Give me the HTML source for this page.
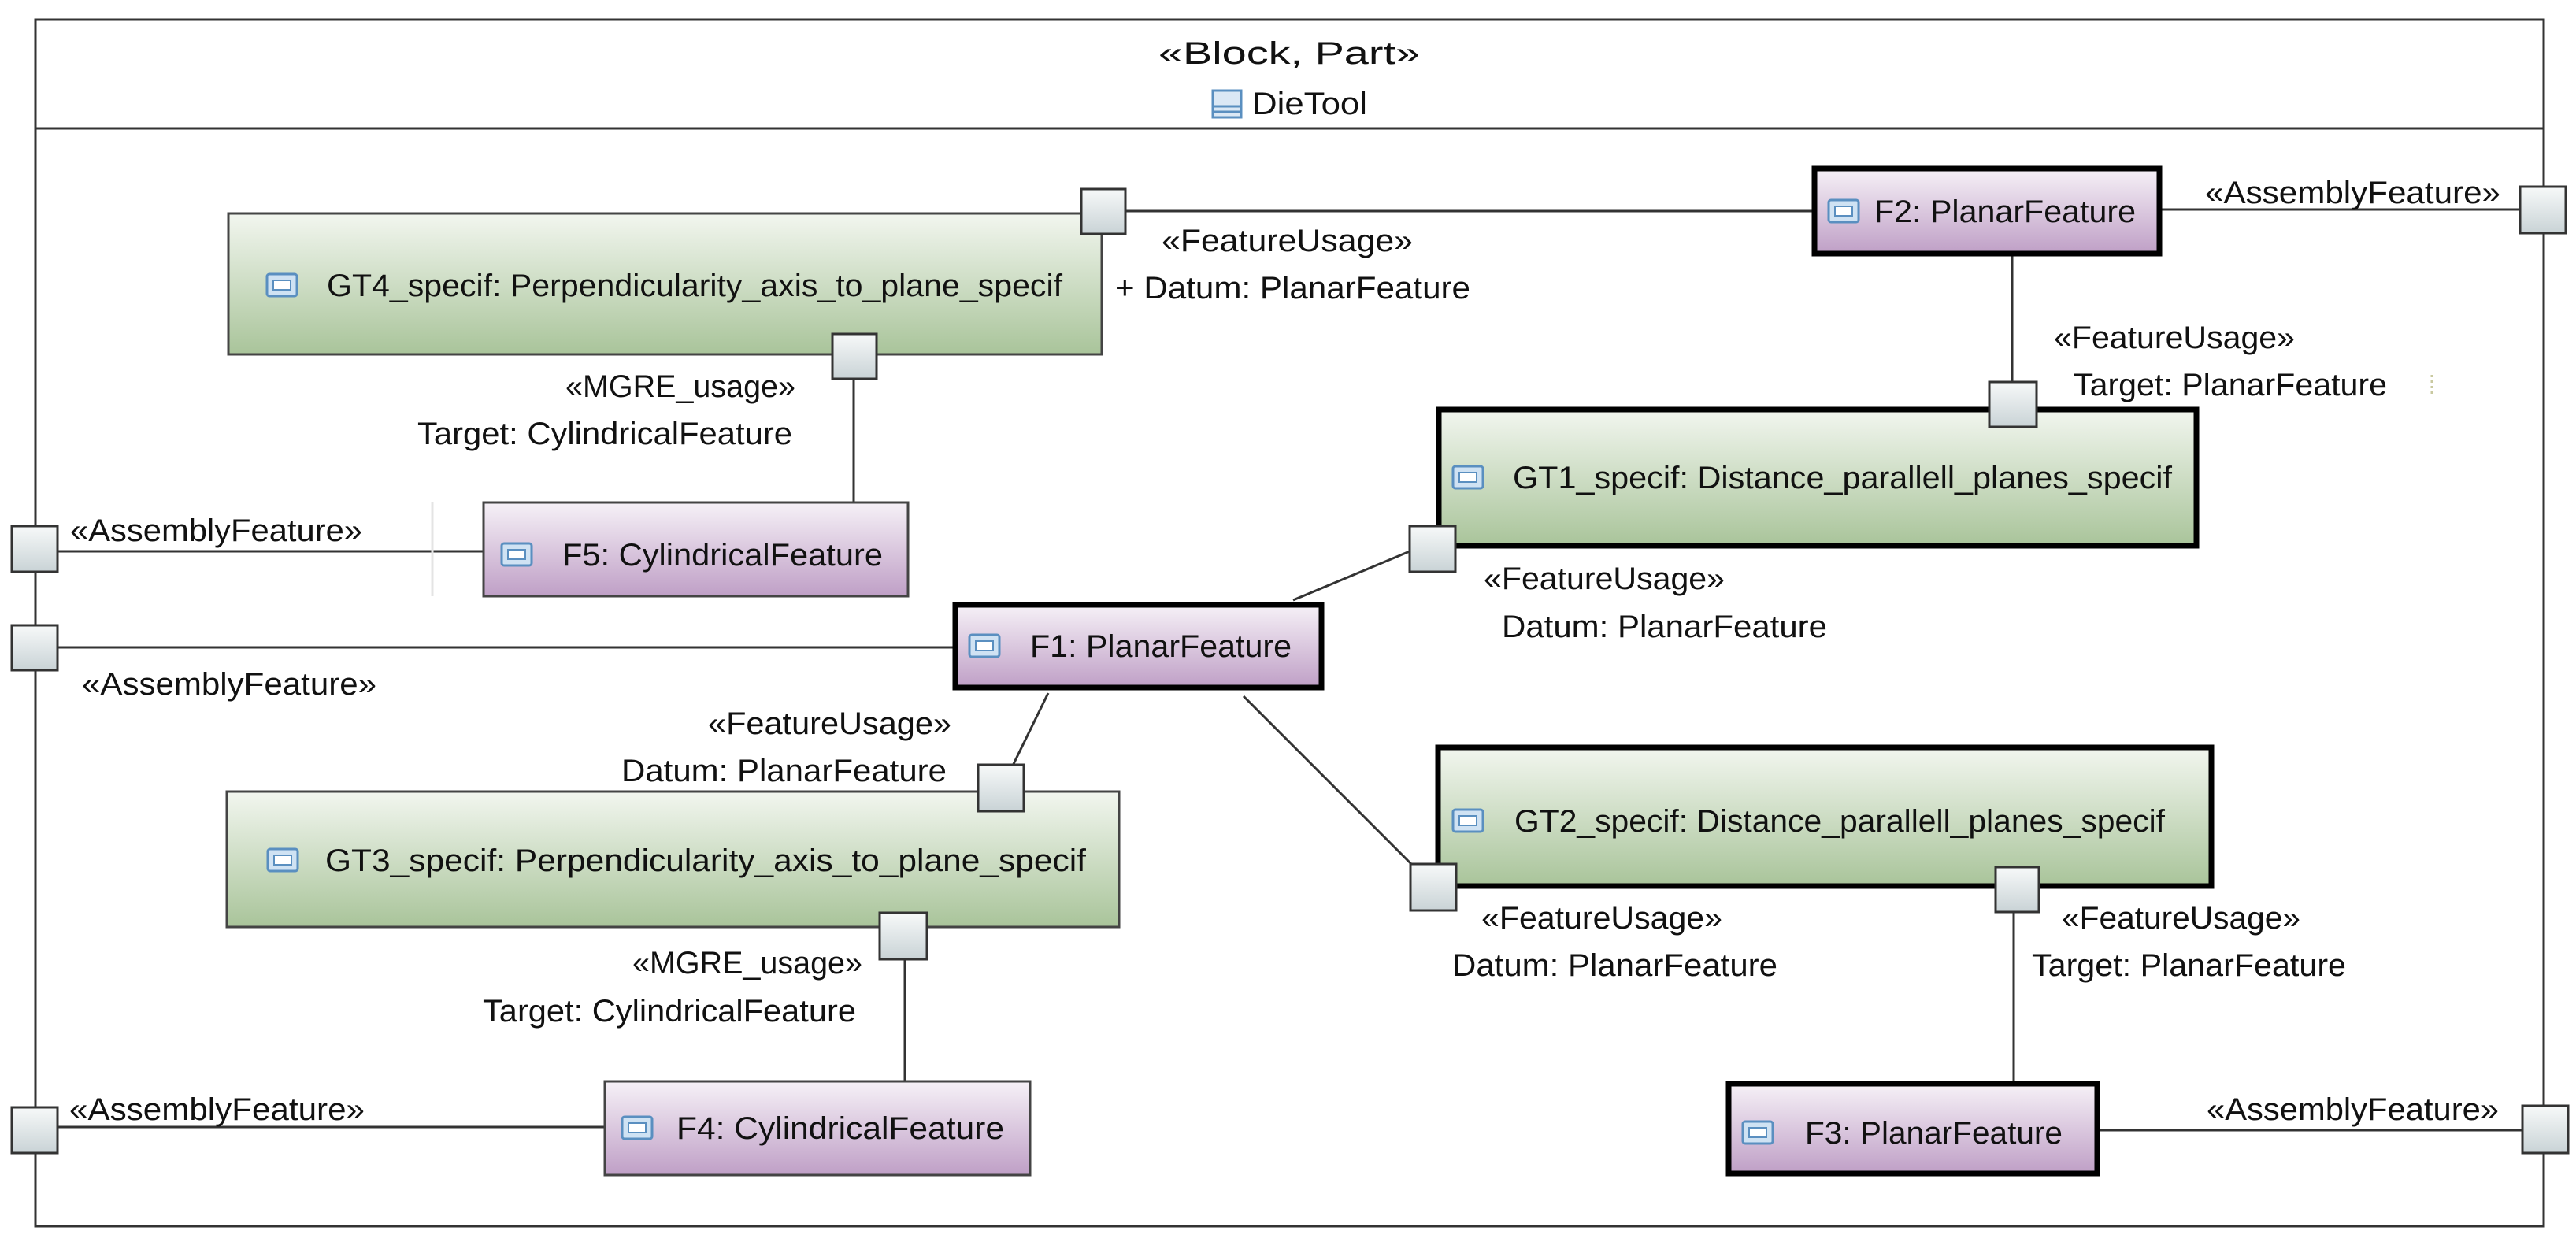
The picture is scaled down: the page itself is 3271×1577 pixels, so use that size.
<!DOCTYPE html>
<html><head><meta charset="utf-8"><style>html,body{margin:0;padding:0;background:#fff}svg{display:block}</style></head>
<body>
<svg width="3271" height="1577" viewBox="0 0 3271 1577" xmlns="http://www.w3.org/2000/svg" font-family="Liberation Sans, sans-serif" font-size="40" fill="#111">
<defs>
<linearGradient id="g" x1="0" y1="0" x2="0" y2="1"><stop offset="0" stop-color="#f2f6ef"/><stop offset="1" stop-color="#a9c49a"/></linearGradient>
<linearGradient id="p" x1="0" y1="0" x2="0" y2="1"><stop offset="0" stop-color="#f6f1f7"/><stop offset="1" stop-color="#bf9fc6"/></linearGradient>
<linearGradient id="q" x1="0" y1="0" x2="0" y2="1"><stop offset="0" stop-color="#f7f9f9"/><stop offset="1" stop-color="#c9d3d6"/></linearGradient>
<g id="ic"><rect x="0" y="0" width="38" height="28" rx="3" fill="#cfe2f3" stroke="#5a8fc0" stroke-width="3"/><rect x="8" y="8" width="22" height="12" fill="#fff" stroke="#5a8fc0" stroke-width="2"/></g>
</defs>
<rect x="45" y="25" width="3185" height="1532" fill="#fff" stroke="#333" stroke-width="3"/>
<line x1="45" y1="163" x2="3230" y2="163" stroke="#333" stroke-width="3"/>
<text x="1637" y="81" text-anchor="middle" textLength="332" lengthAdjust="spacingAndGlyphs">«Block, Part»</text>
<g transform="translate(1540,115)"><rect width="36" height="34" fill="#dbe8f5" stroke="#5a8fc0" stroke-width="3"/><line x1="0" y1="20" x2="36" y2="20" stroke="#5a8fc0" stroke-width="3"/><line x1="0" y1="27" x2="36" y2="27" stroke="#5a8fc0" stroke-width="3"/></g>
<text x="1590" y="145" textLength="146" lengthAdjust="spacingAndGlyphs">DieTool</text>

<g stroke="#333" stroke-width="3" fill="none">
<line x1="1429" y1="268" x2="2301" y2="268"/>
<line x1="2745" y1="266" x2="3198" y2="266"/>
<line x1="2555" y1="325" x2="2555" y2="484"/>
<line x1="1084" y1="481" x2="1084" y2="638"/>
<line x1="73" y1="700" x2="614" y2="700"/>
<line x1="73" y1="822" x2="1210" y2="822"/>
<line x1="1642" y1="762" x2="1790" y2="700"/>
<line x1="1331" y1="880" x2="1287" y2="970"/>
<line x1="1579" y1="884" x2="1792" y2="1097"/>
<line x1="1149" y1="1218" x2="1149" y2="1373"/>
<line x1="73" y1="1431" x2="768" y2="1431"/>
<line x1="2557" y1="1158" x2="2557" y2="1373"/>
<line x1="2666" y1="1435" x2="3202" y2="1435"/>
</g>
<line x1="549" y1="637" x2="549" y2="757" stroke="#e4e4e4" stroke-width="3"/>

<rect x="290" y="271" width="1109" height="179" fill="url(#g)" stroke="#444" stroke-width="3"/>
<rect x="288" y="1005" width="1133" height="172" fill="url(#g)" stroke="#444" stroke-width="3"/>
<rect x="1827" y="520" width="962" height="173" fill="url(#g)" stroke="#000" stroke-width="7"/>
<rect x="1826" y="949" width="982" height="176" fill="url(#g)" stroke="#000" stroke-width="7"/>
<rect x="614" y="638" width="539" height="119" fill="url(#p)" stroke="#444" stroke-width="3"/>
<rect x="768" y="1373" width="540" height="119" fill="url(#p)" stroke="#444" stroke-width="3"/>
<rect x="2304" y="214" width="438" height="108" fill="url(#p)" stroke="#000" stroke-width="7"/>
<rect x="1213" y="768" width="465" height="105" fill="url(#p)" stroke="#000" stroke-width="7"/>
<rect x="2195" y="1376" width="468" height="114" fill="url(#p)" stroke="#000" stroke-width="7"/>

<use href="#ic" x="339" y="348"/>
<use href="#ic" x="637" y="690"/>
<use href="#ic" x="2322" y="254"/>
<use href="#ic" x="1845" y="592"/>
<use href="#ic" x="1231" y="806"/>
<use href="#ic" x="340" y="1078"/>
<use href="#ic" x="1845" y="1028"/>
<use href="#ic" x="790" y="1418"/>
<use href="#ic" x="2213" y="1424"/>

<text x="415" y="376" textLength="934" lengthAdjust="spacingAndGlyphs">GT4_specif: Perpendicularity_axis_to_plane_specif</text>
<text x="714" y="718" textLength="407" lengthAdjust="spacingAndGlyphs">F5: CylindricalFeature</text>
<text x="2380" y="282" textLength="332" lengthAdjust="spacingAndGlyphs">F2: PlanarFeature</text>
<text x="1921" y="620" textLength="837" lengthAdjust="spacingAndGlyphs">GT1_specif: Distance_parallell_planes_specif</text>
<text x="1308" y="834" textLength="332" lengthAdjust="spacingAndGlyphs">F1: PlanarFeature</text>
<text x="413" y="1106" textLength="966" lengthAdjust="spacingAndGlyphs">GT3_specif: Perpendicularity_axis_to_plane_specif</text>
<text x="1923" y="1056" textLength="826" lengthAdjust="spacingAndGlyphs">GT2_specif: Distance_parallell_planes_specif</text>
<text x="859" y="1446" textLength="416" lengthAdjust="spacingAndGlyphs">F4: CylindricalFeature</text>
<text x="2292" y="1452" textLength="327" lengthAdjust="spacingAndGlyphs">F3: PlanarFeature</text>

<g fill="url(#q)" stroke="#333" stroke-width="3">
<rect x="1373" y="240" width="56" height="57"/>
<rect x="1057" y="424" width="56" height="57"/>
<rect x="3200" y="237" width="58" height="59"/>
<rect x="2526" y="485" width="60" height="57"/>
<rect x="15" y="668" width="58" height="58"/>
<rect x="1790" y="668" width="58" height="58"/>
<rect x="15" y="794" width="58" height="57"/>
<rect x="1242" y="971" width="58" height="59"/>
<rect x="1791" y="1097" width="58" height="59"/>
<rect x="2534" y="1101" width="55" height="57"/>
<rect x="1117" y="1159" width="60" height="59"/>
<rect x="15" y="1406" width="58" height="58"/>
<rect x="3203" y="1404" width="58" height="60"/>
</g>

<text x="1475" y="319" textLength="319" lengthAdjust="spacingAndGlyphs">«FeatureUsage»</text>
<text x="1416" y="379" textLength="451" lengthAdjust="spacingAndGlyphs">+ Datum: PlanarFeature</text>
<text x="718" y="504" textLength="292" lengthAdjust="spacingAndGlyphs">«MGRE_usage»</text>
<text x="530" y="564" textLength="476" lengthAdjust="spacingAndGlyphs">Target: CylindricalFeature</text>
<text x="89" y="687" textLength="371" lengthAdjust="spacingAndGlyphs">«AssemblyFeature»</text>
<text x="104" y="882" textLength="374" lengthAdjust="spacingAndGlyphs">«AssemblyFeature»</text>
<text x="88" y="1422" textLength="375" lengthAdjust="spacingAndGlyphs">«AssemblyFeature»</text>
<text x="2800" y="258" textLength="375" lengthAdjust="spacingAndGlyphs">«AssemblyFeature»</text>
<text x="2802" y="1422" textLength="371" lengthAdjust="spacingAndGlyphs">«AssemblyFeature»</text>
<text x="2608" y="442" textLength="306" lengthAdjust="spacingAndGlyphs">«FeatureUsage»</text>
<text x="2633" y="502" textLength="398" lengthAdjust="spacingAndGlyphs">Target: PlanarFeature</text>
<line x1="3088" y1="476" x2="3088" y2="500" stroke="#c9c9a0" stroke-width="3" stroke-dasharray="3,4"/>
<text x="1884" y="748" textLength="306" lengthAdjust="spacingAndGlyphs">«FeatureUsage»</text>
<text x="1907" y="809" textLength="413" lengthAdjust="spacingAndGlyphs">Datum: PlanarFeature</text>
<text x="899" y="932" textLength="309" lengthAdjust="spacingAndGlyphs">«FeatureUsage»</text>
<text x="789" y="992" textLength="413" lengthAdjust="spacingAndGlyphs">Datum: PlanarFeature</text>
<text x="803" y="1236" textLength="292" lengthAdjust="spacingAndGlyphs">«MGRE_usage»</text>
<text x="613" y="1297" textLength="474" lengthAdjust="spacingAndGlyphs">Target: CylindricalFeature</text>
<text x="1881" y="1179" textLength="306" lengthAdjust="spacingAndGlyphs">«FeatureUsage»</text>
<text x="1844" y="1239" textLength="413" lengthAdjust="spacingAndGlyphs">Datum: PlanarFeature</text>
<text x="2618" y="1179" textLength="303" lengthAdjust="spacingAndGlyphs">«FeatureUsage»</text>
<text x="2580" y="1239" textLength="399" lengthAdjust="spacingAndGlyphs">Target: PlanarFeature</text>
</svg>
</body></html>
